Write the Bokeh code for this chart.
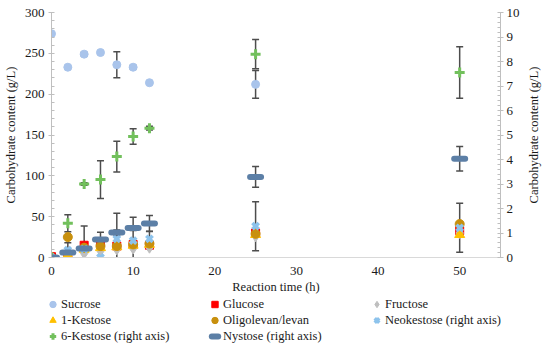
import math
from bokeh.plotting import figure
from bokeh.layouts import column, row
from bokeh.models import (Range1d, LinearAxis, Whisker, ColumnDataSource, Legend,
                          LegendItem, TeeHead, FixedTicker, Label)
from bokeh.embed import file_html
from bokeh.resources import INLINE

NAN = float("nan")

time_h = [0, 2, 4, 6, 8, 10, 12, 25, 50]

# left axis (g/L)
sucrose = [274, 233, 249, 251, 236, 233, 214, 212, NAN]
sucrose_err = [0, 0, 2, 0, 16, 2, 0, 17, 0]
glucose = [1, 2, 15, 18, 14, 16, 15, 30, 33]
fructose = [0, 1, 5, 8, 10, 11, 12, 26, 30]
kestose_1 = [0, 3, 10, 12, 13, 15, 16, 28, 28]
oligolevan = [0, 25, 12, 14, 14, 16, 17, 29, 41]

# right axis (g/L)
neokestose = [0, 0.3, 0.34, 0.0, 0.76, 0.69, 0.76, 1.28, 1.21]
neokestose_err = [0, 0.3, 0.95, 0, 1.05, 0.95, 0.3, 1.0, 1.0]
kestose_6 = [0, 1.4, 3.0, 3.18, 4.12, 4.94, 5.28, 8.3, 7.55]
kestose_6_err = [0, 0.35, 0.05, 0.77, 0.63, 0.32, 0.08, 0.6, 1.05]
nystose = [0, 0.2, 0.37, 0.73, 1.02, 1.2, 1.39, 3.29, 4.03]
nystose_err = [0, 0, 0.05, 0.3, 0.1, 0.1, 0.32, 0.42, 0.5]

labels = ["Sucrose", "Glucose", "Fructose", "1-Kestose", "Oligolevan/levan",
          "Neokestose (right axis)", "6-Kestose (right axis)", "Nystose (right axis)"]

SERIF = "Liberation Serif"
TXT = "#1a1a1a"
AXC = "#BFBFBF"

FW, FH, TOP, RB = 449, 245, 12, 21
p = figure(frame_width=FW, frame_height=FH, output_backend="svg",
           toolbar_location=None,
           x_range=Range1d(0, 55), y_range=Range1d(0, 300),
           min_border_left=44, min_border_right=RB, min_border_top=TOP,
           min_border_bottom=0)
p.extra_y_ranges = {"right": Range1d(0, 10)}
p.xgrid.visible = False
p.ygrid.visible = False
p.outline_line_color = None

xa = p.xaxis[0]
xa.ticker = FixedTicker(ticks=[0, 10, 20, 30, 40, 50])
xa.axis_label = "Reaction time (h)"
xa.major_tick_line_color = None
xa.minor_tick_line_color = None
xa.axis_line_color = "#D9D9D9"

ya = p.yaxis[0]
ya.ticker = FixedTicker(ticks=list(range(0, 301, 50)),
                        minor_ticks=list(range(0, 301, 10)))
ya.axis_label = "Carbohydrate content (g/L)"

yr = LinearAxis(y_range_name="right",
                ticker=FixedTicker(ticks=list(range(0, 11)),
                                   minor_ticks=[i / 5 for i in range(0, 51)]))
p.add_layout(yr, "right")

for ax in (xa, ya, yr):
    ax.major_label_text_font = SERIF
    ax.major_label_text_font_size = "13px"
    ax.major_label_text_color = TXT
    ax.axis_label_text_font = SERIF
    ax.axis_label_text_font_size = "12.5px"
    ax.axis_label_text_font_style = "normal"
    ax.axis_label_text_color = TXT
    ax.axis_label_standoff = 4
for ax in (ya, yr):
    ax.axis_line_color = AXC
    ax.major_tick_line_color = AXC
    ax.minor_tick_line_color = AXC
    ax.major_tick_in = 2
    ax.major_tick_out = 3
    ax.minor_tick_in = 3
    ax.minor_tick_out = 0
    ax.major_label_standoff = 4
yr.major_label_standoff = 3
xa.major_label_standoff = 3
xa.axis_label_standoff = 2

ERR = "#4d4d4d"

def add_err(vals, errs, rng=None):
    xs, lo, hi = [], [], []
    for t, v, e in zip(time_h, vals, errs):
        if e > 0 and not math.isnan(v):
            xs.append(t); lo.append(v - e); hi.append(v + e)
    src = ColumnDataSource(dict(x=xs, lower=lo, upper=hi))
    kw = {"y_range_name": rng} if rng else {}
    p.add_layout(Whisker(source=src, base="x", lower="lower", upper="upper",
                         line_color=ERR, line_width=1.5,
                         upper_head=TeeHead(size=7, line_color=ERR, line_width=1.5),
                         lower_head=TeeHead(size=7, line_color=ERR, line_width=1.5),
                         **kw))

add_err(sucrose, sucrose_err)
add_err(neokestose, neokestose_err, "right")
add_err(kestose_6, kestose_6_err, "right")
add_err(nystose, nystose_err, "right")

styles = [
    dict(marker="circle", size=8, color="#A9C4EB"),
    dict(marker="square", size=8, color="#FF0000"),
    dict(marker="diamond", size=11, color="#BFBFBF"),
    dict(marker="triangle", size=10, color="#FFC000"),
    dict(marker="circle", size=9, color="#C8900E"),
    dict(marker="x", size=9, line_color="#8DC3EC", line_width=3.5),
    dict(marker="cross", size=10, line_color="#72C05C", line_width=3),
    dict(marker="dash", size=11, line_color="#5C7FA6", line_width=6, line_cap="round"),
]
series = [sucrose, glucose, fructose, kestose_1, oligolevan, neokestose, kestose_6, nystose]
on_right = [False, False, False, False, False, True, True, True]

for vals, st, rt in zip(series, styles, on_right):
    kw = {"y_range_name": "right"} if rt else {}
    p.scatter(time_h, vals, **st, **kw)

# right-hand axis title in a thin strip, reading bottom to top
RW = 534 - 44 - FW - RB
r_fig = figure(frame_width=RW, frame_height=FH, output_backend="svg",
               toolbar_location=None, x_range=Range1d(0, 1), y_range=Range1d(0, 1),
               min_border_left=0, min_border_right=0, min_border_top=TOP,
               min_border_bottom=0)
r_fig.axis.visible = False
r_fig.grid.visible = False
r_fig.outline_line_color = None
r_fig.add_layout(Label(x=RW - 9, y=FH / 2, x_units="screen", y_units="screen",
                       text="Carbohydrate content (g/L)", angle=math.pi / 2,
                       text_align="center", text_baseline="middle",
                       text_font=SERIF, text_font_size="12.5px", text_color=TXT))

# legend in a strip under the chart
q = figure(width=534, height=47, output_backend="svg", toolbar_location=None,
           x_range=Range1d(0, 1), y_range=Range1d(0, 1),
           min_border_left=44, min_border_right=0, min_border_top=0,
           min_border_bottom=0)
q.axis.visible = False
q.grid.visible = False
q.outline_line_color = None
items = []
for lab, st in zip(labels, styles):
    rr = q.scatter([-5], [-5], **st)
    items.append(LegendItem(label=lab, renderers=[rr]))
leg = Legend(items=items, orientation="horizontal", ncols=3,
             location="top_left",
             border_line_color=None, background_fill_alpha=0,
             label_text_font=SERIF, label_text_font_size="12.5px",
             label_text_color=TXT,
             glyph_width=17, glyph_height=16, label_height=16,
             label_standoff=0, spacing=0, padding=0, margin=0,
             label_width=145)
q.add_layout(leg, "center")

layout = column(row(p, r_fig, spacing=0), q, spacing=0)
open("out.html", "w").write(file_html(layout, INLINE))
